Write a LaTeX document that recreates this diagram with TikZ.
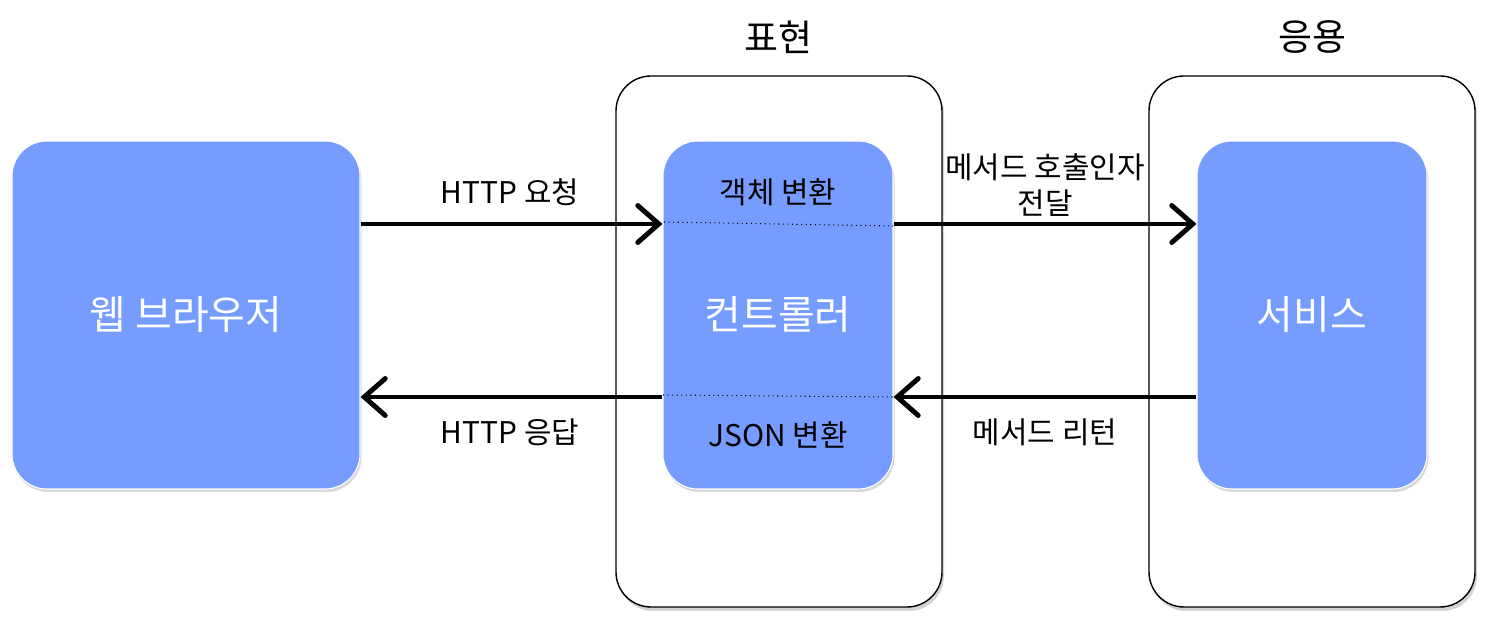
\documentclass[tikz,border=0pt]{standalone}
\usepackage{fontspec}
\setmainfont{Noto Sans CJK KR}
\usepackage{xcolor}
\usetikzlibrary{arrows.meta,positioning,shadows}
\definecolor{boxblue}{RGB}{118,156,255}

\begin{document}
\begin{tikzpicture}[
    layer/.style={draw=black,line width=0.8pt,fill=white,rounded corners=0.7cm,
        minimum width=6.52cm,minimum height=10.62cm,
        drop shadow={opacity=0.35,shadow xshift=0.04cm,shadow yshift=-0.08cm}},
    part/.style={draw=white,line width=0.6pt,fill=boxblue,rounded corners=0.7cm,
        minimum height=6.96cm,text=white,font=\fontsize{22.7}{27}\selectfont,
        drop shadow={opacity=0.3,shadow xshift=0.03cm,shadow yshift=-0.06cm}},
    title/.style={font=\fontsize{21}{25}\selectfont},
    label/.style={align=center,font=\fontsize{17}{20}\selectfont},
    flow/.style={line width=2.8pt,-{Straight Barb[length=4.2mm,width=7.4mm,line cap=round]}},
    seam/.style={dotted,line width=0.6pt}
]
\useasboundingbox (0,0) rectangle (29.76,12.48);
% layers
\node[layer] (pres) at (15.58,5.65) {};
\node[layer] (app) at (26.24,5.65) {};
\node[title] (ptitle) at (15.56,11.74) {표현};
\node[title] (atitle) at (26.24,11.74) {응용};
% components
\node[part,minimum width=6.96cm] (browser) at (3.72,6.18) {웹 브라우저};
\node[part,minimum width=4.6cm] (ctrl) at (15.56,6.18) {컨트롤러};
\node[part,minimum width=4.6cm] (svc) at (26.24,6.18) {서비스};
% seams inside the controller
\coordinate (seamA) at (13.28,8.04);
\coordinate (seamB) at (17.86,7.96);
\coordinate (seamC) at (13.26,4.58);
\coordinate (seamD) at (17.86,4.54);
\draw[seam] (seamA) -- (seamB);
\draw[seam] (seamC) -- (seamD);
\node[label] (tojava) at (15.56,8.64) {객체 변환};
\node[label] (tojson) at (15.56,3.78) {JSON 변환};
% requests
\draw[flow] (browser.east |- 0,8.0) -- (ctrl.west |- 0,8.0);
\draw[flow] (ctrl.east |- 0,8.0) -- (svc.west |- 0,8.0);
\node[label] (req) at (10.2,8.64) {HTTP 요청};
\node[label] (call) at (20.9,8.78) {메서드 호출인자\\전달};
% responses
\draw[flow] (svc.west |- 0,4.54) -- (ctrl.east |- 0,4.54);
\draw[flow] (ctrl.west |- 0,4.54) -- (browser.east |- 0,4.54);
\node[label] (ret) at (20.9,3.84) {메서드 리턴};
\node[label] (resp) at (10.2,3.84) {HTTP 응답};
\end{tikzpicture}
\end{document}
